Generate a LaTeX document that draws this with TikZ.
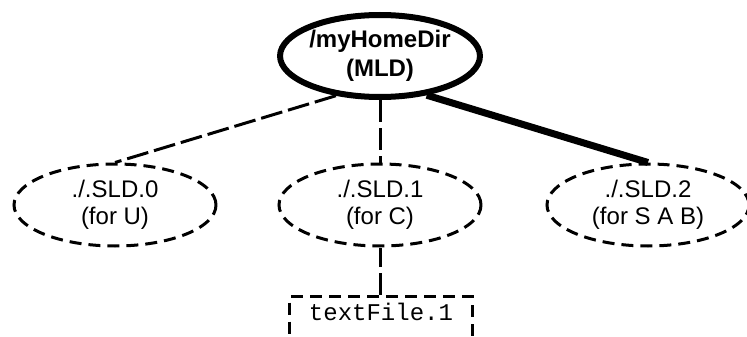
\documentclass[tikz,border=0pt]{standalone}
\usepackage{fontspec}
\setmainfont{Liberation Sans}
\setmonofont{Liberation Mono}
\usetikzlibrary{
    shapes.geometric,
    calc
}
\tikzset {
    dir line/.style = {dash pattern = on 12pt off 7pt},
    main dir/.style = {ellipse, draw, line width = 6pt, inner sep = 0pt,
        minimum width = 198pt, minimum height = 82pt, align = center,
        font = \fontsize{24}{29}\selectfont\bfseries},
    sub dir/.style = {ellipse, draw, dir line, line width = 3pt, inner sep = 0pt,
        minimum width = 202pt, minimum height = 82pt, align = center,
        font = \fontsize{24}{27}\selectfont},
    file box/.style = {rectangle, draw, dir line, line width = 3pt, inner sep = 0pt,
        minimum width = 183pt, text height = 24pt, text depth = 60pt,
        font = \fontsize{24}{28}\ttfamily},
    dashed link/.style = {line width = 3pt, dash pattern = on 22pt off 6pt},
    thick link/.style = {line width = 7pt},
}

\begin{document}
\begin{tikzpicture}[x = 1pt, y = -1pt]
            \clip (0, 0) rectangle (747, 337);
            \node (mld) [main dir] at (380, 56) {/myHomeDir\\(MLD)};
            \node (sld0) [sub dir] at (115, 205) {./.SLD.0\\(for U)};
            \node (sld1) [sub dir] at (380, 205) {./.SLD.1\\(for C)};
            \node (sld2) [sub dir] at (648, 205) {./.SLD.2\\(for S A B)};
            \node (file1) [file box, anchor = north] at (381, 295) {textFile.1};
            \draw [dashed link] (mld.-138) -- (sld0.north);
            \draw [dashed link] (mld.south) -- (sld1.north);
            \draw [thick link] (mld.-40) -- (sld2.north);
            \draw [dashed link] (file1.north -| sld1.south) -- (sld1.south);
        \end{tikzpicture}
\end{document}
